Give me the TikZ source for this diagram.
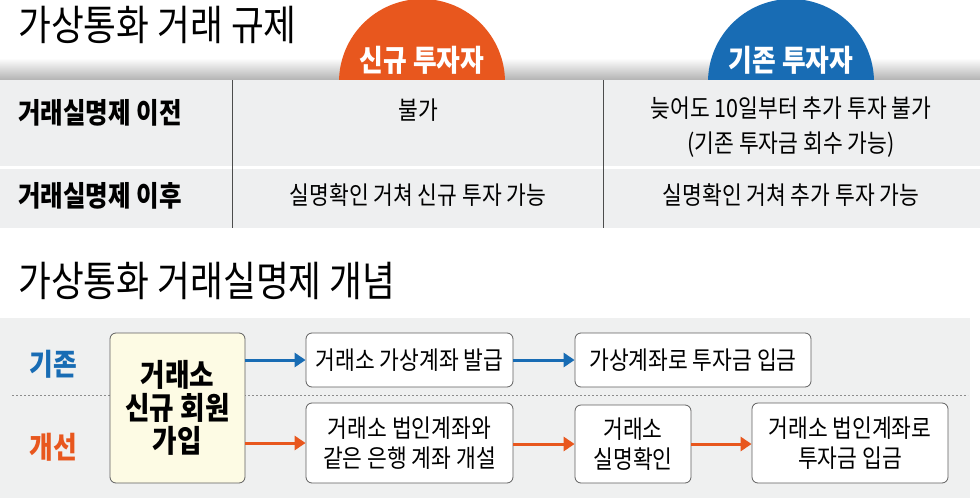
\documentclass[tikz,border=0pt]{standalone}
\usepackage{fontspec}
\setmainfont{Noto Sans CJK KR}[FakeStretch=0.86]
\usetikzlibrary{arrows.meta,positioning}
\definecolor{newinv}{RGB}{232,87,30}
\definecolor{oldinv}{RGB}{24,108,180}
\definecolor{tabgray}{RGB}{238,239,240}
\definecolor{panelgray}{RGB}{239,240,240}
\definecolor{boxline}{RGB}{95,95,95}
\definecolor{joinfill}{RGB}{253,251,228}

\begin{document}
\begin{tikzpicture}[
    x=1pt, y=-1pt,
    title/.style={anchor=west, inner sep=0pt, font=\fontsize{41.5}{44}\selectfont},
    tab/.style={text=white, font=\bfseries\fontsize{30}{32}\selectfont},
    rowlab/.style={anchor=west, inner sep=0pt, font=\bfseries\fontsize{28.5}{30}\selectfont},
    cell/.style={align=center, font=\fontsize{25}{35}\selectfont},
    stepbox/.style={rectangle, rounded corners=6pt, draw=boxline, fill=white,
                    line width=0.8pt, align=center, inner sep=0pt,
                    font=\fontsize{25}{30}\selectfont},
    rowname/.style={font=\bfseries\fontsize{30}{32}\selectfont},
    barr/.style={oldinv, line width=3pt, -{Triangle[length=11pt,width=14pt]}},
    oarr/.style={newinv, line width=3pt, -{Triangle[length=11pt,width=14pt]}}
]
    \useasboundingbox (0,0) rectangle (980,498);

    % Title 1
    \node[title] (t1) at (18,25) {가상통화 거래 규제};

    % Header strip and tabs
    \shade[top color=white, bottom color=black!30] (0,58) rectangle (980,80);
    \begin{scope}
        \clip (0,0) rectangle (980,80);
        \fill[newinv] (422,82) circle (83);
        \fill[oldinv] (791,82) circle (83);
    \end{scope}
    \node[tab] (tabnew) at (422,60) {신규 투자자};
    \node[tab] (tabold) at (791,60) {기존 투자자};

    % Table rows
    \fill[tabgray] (0,80) rectangle (980,166);
    \fill[tabgray] (0,169) rectangle (980,228);
    \draw[black!70, line width=0.8pt] (232,80) -- (232,228);
    \draw[black!70, line width=0.8pt] (603,80) -- (603,228);

    \node[rowlab] (r1) at (18,113) {거래실명제 이전};
    \node[rowlab] (r2) at (18,196) {거래실명제 이후};
    \node[cell] (c11) at (418,110) {불가};
    \node[cell] (c12) at (791,127) {늦어도 10일부터 추가 투자 불가\\(기존 투자금 회수 가능)};
    \node[cell] (c21) at (418,195) {실명확인 거쳐 신규 투자 가능};
    \node[cell] (c22) at (791,195) {실명확인 거쳐 추가 투자 가능};

    % Title 2
    \node[title] (t2) at (18,281) {가상통화 거래실명제 개념};

    % Process panel
    \fill[panelgray] (0,318) rectangle (970,498);
    \draw[black!45, line width=0.8pt, dash pattern=on 2pt off 2pt] (12,395) -- (968,395);

    \node[rowname, text=oldinv] (lold) at (53,364) {기존};
    \node[rowname, text=newinv] (lnew) at (53,447) {개선};

    \node[stepbox, fill=joinfill, minimum width=135pt, minimum height=150pt,
          font=\bfseries\fontsize{31}{33}\selectfont] (join) at (177.5,408) {거래소\\신규 회원\\가입};

    \node[stepbox, minimum width=207pt, minimum height=54pt] (vacct) at (409.5,360) {거래소 가상계좌 발급};
    \node[stepbox, minimum width=236pt, minimum height=54pt] (vdep) at (693,360) {가상계좌로 투자금 입금};

    \node[stepbox, minimum width=207pt, minimum height=80pt] (bank) at (409.5,443) {거래소 법인계좌와\\같은 은행 계좌 개설};
    \node[stepbox, minimum width=116pt, minimum height=78pt] (check) at (633,444) {거래소\\실명확인};
    \node[stepbox, minimum width=196pt, minimum height=80pt] (cdep) at (850,443) {거래소 법인계좌로\\투자금 입금};

    % Arrows
    \draw[barr] (join.east |- vacct.west) -- (vacct.west);
    \draw[barr] (vacct) -- (vdep);
    \draw[oarr] (join.east |- bank.west) -- (bank.west);
    \draw[oarr] (bank.east |- check.west) -- (check.west);
    \draw[oarr] (check) -- (check -| cdep.west);
\end{tikzpicture}
\end{document}
